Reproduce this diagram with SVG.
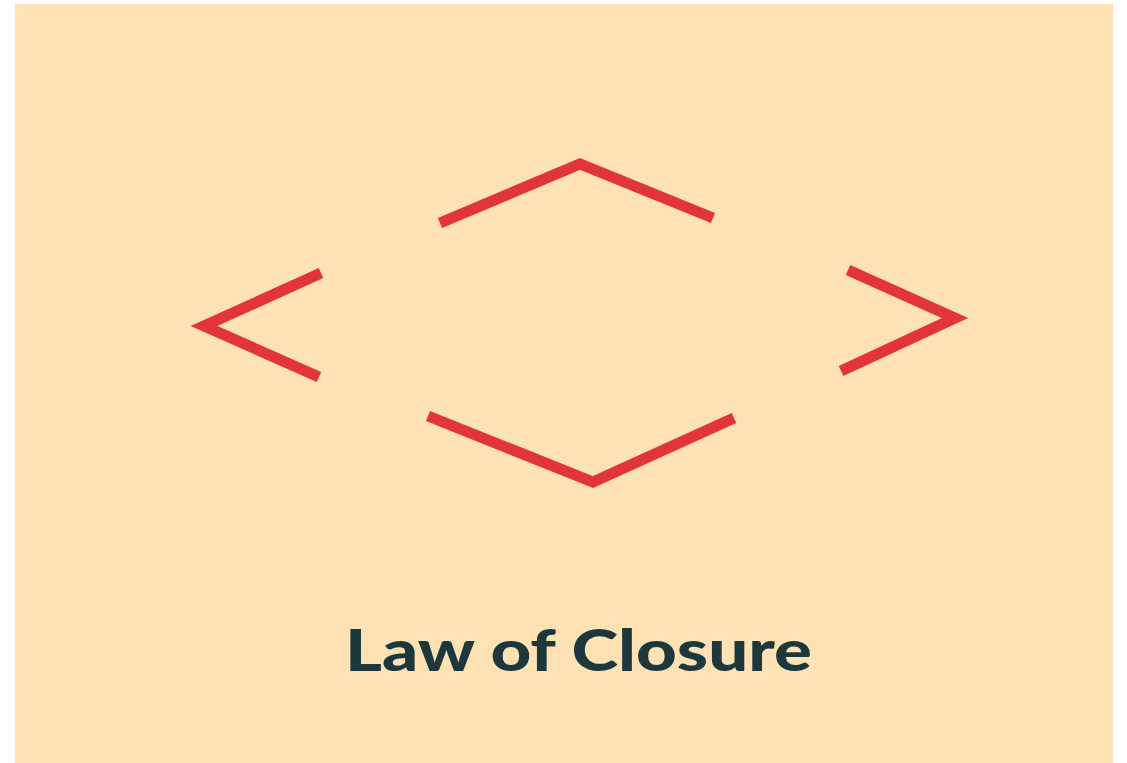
<svg xmlns="http://www.w3.org/2000/svg" width="1127" height="763" viewBox="0 0 1127 763">
  <style>
    .stroke { fill: none; stroke: #e2353b; stroke-width: 11; stroke-linecap: butt; stroke-linejoin: miter; }
    .title { font-family: Lato, "Open Sans", "Liberation Sans", sans-serif; font-weight: 900; font-size: 57px; fill: #1d383c; }
  </style>
  <rect x="0" y="0" width="1127" height="763" fill="#ffffff"/>
  <rect x="15" y="4" width="1098" height="759" fill="#fee2b3"/>
  <g id="shapes">
    <g id="left"><polyline class="stroke" points="321,273 204,326 319,377"/></g>
    <g id="top"><polyline class="stroke" points="440,223 580,164 713,218"/></g>
    <g id="right"><polyline class="stroke" points="848,270 955,318 841,371"/></g>
    <g id="bottom"><polyline class="stroke" points="428,416 593,482 734,418"/></g>
  </g>
  <g id="label">
    <text class="title" x="345" y="671" textLength="467" lengthAdjust="spacingAndGlyphs">Law of Closure</text>
  </g>
</svg>
